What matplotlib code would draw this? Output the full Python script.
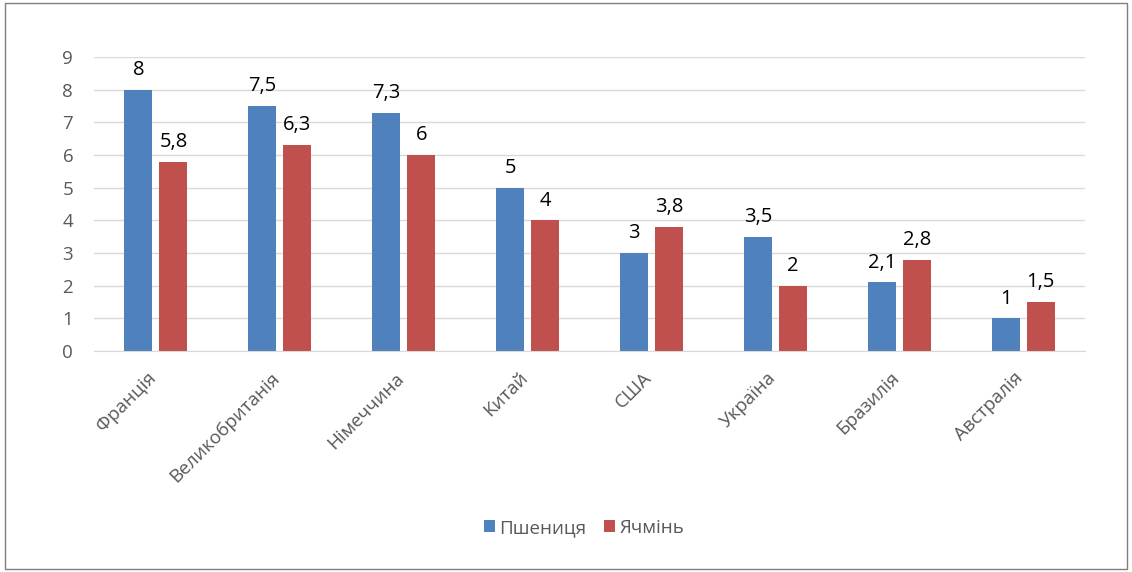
import numpy as np
import matplotlib
matplotlib.use("Agg")
import matplotlib.pyplot as plt
from matplotlib.patches import Rectangle
from matplotlib.transforms import ScaledTranslation

# data
countries = ["Франція", "Великобританія", "Німеччина", "Китай", "США",
             "Україна", "Бразилія", "Австралія"]
wheat = [8, 7.5, 7.3, 5, 3, 3.5, 2.1, 1]
barley = [5.8, 6.3, 6, 4, 3.8, 2, 2.8, 1.5]
series_names = ["Пшениця", "Ячмінь"]
yticks = list(range(0, 10))

plt.rcParams['font.family'] = ['Open Sans', 'DejaVu Sans']

fig = plt.figure(figsize=(11.32, 5.72), dpi=100)
fig.patches.append(Rectangle((0.004, 0.006), 0.992, 0.988, transform=fig.transFigure,
                             fill=False, edgecolor='#7f7f7f', linewidth=1))
W, H = 1132, 572
ax = fig.add_axes([94 / W, 1 - 351 / H, (1085 - 94) / W, (351 - 57) / H])

x = np.arange(len(countries))
bw = 0.226
off = 0.141
b1 = ax.bar(x - off, wheat, bw, color='#4F81BD', label=series_names[0])
b2 = ax.bar(x + off, barley, bw, color='#C0504D', label=series_names[1])

def fmt(v):
    s = ('%g' % v).replace('.', ',')
    return s

for bars, vals in ((b1, wheat), (b2, barley)):
    for r, v in zip(bars, vals):
        ax.annotate(fmt(v), (r.get_x() + r.get_width() / 2, v), xytext=(0, 7),
                    textcoords='offset points', ha='center', va='bottom',
                    fontsize=14.5, color='black')

ax.set_xlim(-0.5, len(countries) - 0.5)
ax.set_ylim(0, 9)
ax.set_yticks(yticks)
ax.set_yticklabels([str(t) for t in yticks], fontsize=13.5, color='#595959')
ax.set_xticks(x)
ax.set_xticklabels([])
# category labels, drawn as text so they can be nudged left like in the original
lab_tr = ax.get_xaxis_transform() + ScaledTranslation(-9 / 100, -18 / 100, fig.dpi_scale_trans)
for i, name in enumerate(countries):
    ax.text(i, 0, name, transform=lab_tr, rotation=45, ha='right', va='top',
            rotation_mode='anchor', fontsize=13.5, color='#595959')
ax.tick_params(axis='both', length=0)
ax.tick_params(axis='y', pad=15)
ax.grid(axis='y', color='#d9d9d9', linewidth=1)
ax.set_axisbelow(True)
for s in ['top', 'right', 'left']:
    ax.spines[s].set_visible(False)
ax.spines['bottom'].set_color('#d9d9d9')

fig.legend(handles=[b1, b2], loc='center', bbox_to_anchor=(584 / W, 1 - 528 / H),
           ncol=2, frameon=False, fontsize=13.5, handlelength=0.6, handleheight=0.6,
           columnspacing=0.9, handletextpad=0.25, labelcolor='#595959')

fig.savefig('out.png', dpi=100)
